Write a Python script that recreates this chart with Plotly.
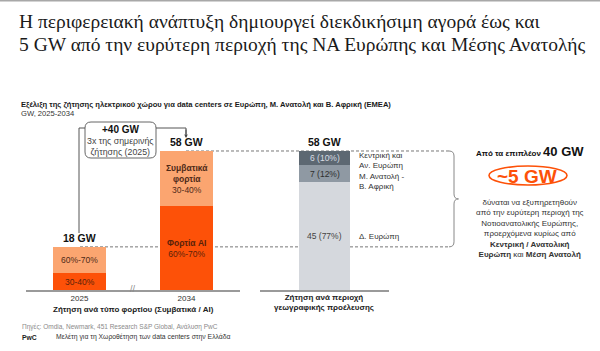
import plotly.graph_objects as go

# ---------------- data ----------------
years = ["2025", "2034"]
ai_gw = [7, 35]            # Φορτία AI (dark orange)
conv_gw = [11, 23]         # Συμβατικά φορτία (light orange)
ai_labels = ["30-40%", "<b>Φορτία AI</b><br>60%-70%"]
conv_labels = ["60%-70%", "<b>Συμβατικά<br>φορτία</b><br>30-40%"]
total_labels = ["18 GW", "58 GW"]

region_cat = ["Περιοχή"]
region_names = ["Δ. Ευρώπη", "Μ. Ανατολή -<br>Β. Αφρική", "Κεντρική και<br>Αν. Ευρώπη"]
region_gw = [45, 7, 6]
region_pct = ["77%", "12%", "10%"]
region_total_label = "58 GW"

# ---------------- styling ----------------
W, H = 600, 351
DARK_OR = "#FD5108"
LIGHT_OR = "#FBA570"
GRAYS = ["#D5D8DD", "#8F99A3", "#5D6872"]
REG_TXT = ["#444444", "#2e2e2e", "#d8dde2"]
AXIS_C = "#9a9a9a"
SANS = "Liberation Sans, Arial, sans-serif"
SERIF = "Liberation Serif, Georgia, serif"


def X(px):
    return px / W


def Y(py):
    return 1 - py / H


# y scale: 0 GW at pixel 290, 58 GW at pixel 151
y0_px, y58_px = 290, 151
ppg = (y0_px - y58_px) / 58.0
YMAX = 60
ytop_px = y0_px - YMAX * ppg

fig = go.Figure()
fig.add_trace(go.Bar(x=years, y=ai_gw, marker=dict(color=DARK_OR, line=dict(width=0)),
                     width=0.49, xaxis="x", yaxis="y", hoverinfo="skip"))
fig.add_trace(go.Bar(x=years, y=conv_gw, marker=dict(color=LIGHT_OR, line=dict(width=0)),
                     width=0.49, xaxis="x", yaxis="y", hoverinfo="skip"))
for v, c in zip(region_gw, GRAYS):
    fig.add_trace(go.Bar(x=region_cat, y=[v], marker=dict(color=c, line=dict(width=0)),
                         width=0.40, xaxis="x2", yaxis="y", hoverinfo="skip"))

ann = []
shapes = []

def A(text, x, y, size=8, color="#333", bold=False, xanchor="center", yanchor="middle",
      xref="paper", yref="paper", family=SANS, align="center", **kw):
    if bold:
        text = "<b>" + text + "</b>"
    d = dict(text=text, x=x, y=y, xref=xref, yref=yref, showarrow=False,
             font=dict(size=size, color=color, family=family),
             xanchor=xanchor, yanchor=yanchor, align=align)
    d.update(kw)
    ann.append(d)

# Title (two lines)
A("Η περιφερειακή ανάπτυξη δημιουργεί διεκδικήσιμη αγορά έως και",
  X(17), Y(22), size=19.5, color="#1a1a1a", family=SERIF, xanchor="left", align="left")
A("5 GW από την ευρύτερη περιοχή της ΝΑ Ευρώπης και Μέσης Ανατολής",
  X(17), Y(45), size=19.5, color="#1a1a1a", family=SERIF, xanchor="left", align="left")

# Subtitle
A("<b>Εξέλιξη της ζήτησης ηλεκτρικού χώρου για data centers σε Ευρώπη, Μ. Ανατολή και Β. Αφρική (EMEA)</b>",
  X(19), Y(104), size=7.6, color="#1a1a1a", xanchor="left")
A("GW, 2025-2034", X(19), Y(113.5), size=7.6, color="#333", xanchor="left")

# bar segment labels (left) – category index positions
for i, yr in enumerate(years):
    A(ai_labels[i], i, ai_gw[i] / 2, size=8.5, color="#5a2208", xref="x", yref="y")
    A(conv_labels[i], i, ai_gw[i] + conv_gw[i] / 2, size=8.5, color="#4e2a18", xref="x", yref="y")
    A(total_labels[i], i, ai_gw[i] + conv_gw[i], size=10.5, color="#111", bold=True,
      xref="x", yref="y", yanchor="bottom", yshift=1)

# region segment labels
cum = 0
shifts = [0, -8, -2]
for i, v in enumerate(region_gw):
    mid = cum + v / 2
    A(f"{v} ({region_pct[i]})", 0, mid, size=8.5, color=REG_TXT[i], xref="x2", yref="y")
    A(region_names[i], X(357), mid, size=8, color="#333", xanchor="left", yref="y",
      align="left", yshift=shifts[i])
    cum += v
A(region_total_label, 0, cum, size=10.5, color="#111", bold=True,
  xref="x2", yref="y", yanchor="bottom", yshift=1)

# axis titles
A("Ζήτηση ανά τύπο φορτίου (Συμβατικά / AI)", X(133), Y(309), size=8, color="#222", bold=True)
A("Ζήτηση ανά περιοχή<br>γεωγραφικής προέλευσης", X(324), Y(302.5), size=8, color="#222", bold=True)

# axis break mark
A("//", X(133), Y(289), size=9, color="#888")

# +40 GW box
A("<b>+40 GW</b>", X(120.5), Y(129), size=10, color="#111")
A("3x της σημερινής<br>ζήτησης (2025)", X(120.5), Y(146), size=8.8, color="#444")

# arrow down to 58 GW
ann.append(dict(x=X(186), y=Y(138), xref="paper", yref="paper", ax=0, ay=-10,
                showarrow=True, arrowhead=2, arrowsize=0.7, arrowwidth=1,
                arrowcolor="#444", text=""))

# right text block
A("<b>Από τα επιπλέον <span style='font-size:13px'>40 GW</span></b>", X(530), Y(152),
  size=8, color="#111")
A("<b>~5 GW</b>", X(527), Y(176), size=19, color=DARK_OR)
A("δύναται να εξυπηρετηθούν<br>από την ευρύτερη περιοχή της<br>Νοτιοανατολικής Ευρώπης,<br>"
  "προερχόμενα κυρίως από<br><b>Κεντρική / Ανατολική</b><br><b>Ευρώπη</b> και <b>Μέση Ανατολή</b>",
  X(530), Y(228), size=8, color="#333")

# footer
A("Πηγές: Omdia, Newmark, 451 Research S&P Global, Ανάλυση PwC", X(20), Y(326.5),
  size=6.5, color="#8a8a8a", xanchor="left")
A("<b>PwC</b>", X(20), Y(337), size=6.8, color="#222", xanchor="left")
A("Μελέτη για τη Χωροθέτηση των data centers στην Ελλάδα", X(54), Y(337),
  size=6.8, color="#333", xanchor="left")

# ---------------- shapes ----------------
# top gray rule
shapes.append(dict(type="line", xref="paper", yref="paper", x0=0, x1=1, y0=Y(0.5), y1=Y(0.5),
                   line=dict(color="#a8a8a8", width=2)))

tot25 = ai_gw[0] + conv_gw[0]
tot34 = ai_gw[1] + conv_gw[1]
dash = dict(color="#777", width=1, dash="3px,2px")
# dashed level lines (behind bars)
shapes.append(dict(type="line", xref="paper", yref="y", x0=X(186), x1=X(449), y0=tot34, y1=tot34,
                   line=dash, layer="below"))
shapes.append(dict(type="line", xref="paper", yref="y", x0=X(80), x1=X(449), y0=tot25, y1=tot25,
                   line=dash, layer="below"))

# brace (x in paper, y in data)
r = 5 / ppg
bx0, bx1, bx2 = X(449), X(454), X(458.5)
ymid = (tot25 + tot34) / 2
brace = (f"M {bx0} {tot34} Q {bx1} {tot34} {bx1} {tot34 - r} L {bx1} {ymid + r} "
         f"Q {bx1} {ymid} {bx2} {ymid} Q {bx1} {ymid} {bx1} {ymid - r} L {bx1} {tot25 + r} "
         f"Q {bx1} {tot25} {bx0} {tot25}")
shapes.append(dict(type="path", xref="paper", yref="y", path=brace,
                   line=dict(color="#888", width=1)))

# +40 GW rounded box
def rrect(x0, y0, x1, y1, rad):
    return (f"M {X(x0 + rad)} {Y(y0)} L {X(x1 - rad)} {Y(y0)} Q {X(x1)} {Y(y0)} {X(x1)} {Y(y0 + rad)} "
            f"L {X(x1)} {Y(y1 - rad)} Q {X(x1)} {Y(y1)} {X(x1 - rad)} {Y(y1)} "
            f"L {X(x0 + rad)} {Y(y1)} Q {X(x0)} {Y(y1)} {X(x0)} {Y(y1 - rad)} "
            f"L {X(x0)} {Y(y0 + rad)} Q {X(x0)} {Y(y0)} {X(x0 + rad)} {Y(y0)} Z")

shapes.append(dict(type="path", xref="paper", yref="paper", path=rrect(85, 122, 156, 158, 6),
                   line=dict(color="#666", width=1), fillcolor="white"))
# connector lines
shapes.append(dict(type="path", xref="paper", yref="paper",
                   path=f"M {X(79)} {Y(233)} L {X(79)} {Y(128)} L {X(85)} {Y(128)}",
                   line=dict(color="#555", width=1)))
shapes.append(dict(type="path", xref="paper", yref="paper",
                   path=f"M {X(156)} {Y(128)} L {X(186)} {Y(128)} L {X(186)} {Y(134)}",
                   line=dict(color="#555", width=1)))
# ellipse around ~5 GW
shapes.append(dict(type="circle", xref="paper", yref="paper", x0=X(489), x1=X(567),
                   y0=Y(185), y1=Y(166), line=dict(color=DARK_OR, width=1.6)))

fig.update_layout(
    width=W, height=H, margin=dict(l=0, r=0, t=0, b=0),
    paper_bgcolor="white", plot_bgcolor="rgba(0,0,0,0)",
    barmode="stack", showlegend=False,
    xaxis=dict(domain=[X(26), X(240)], type="category", categoryorder="array",
               categoryarray=years, range=[-0.5, 1.5], showline=True, linecolor=AXIS_C,
               linewidth=1.5, ticks="", showgrid=False, zeroline=False, fixedrange=True,
               tickfont=dict(size=8, color="#333", family=SANS)),
    xaxis2=dict(domain=[X(260), X(389)], anchor="y", type="category", range=[-0.5, 0.5],
                showline=True, linecolor=AXIS_C, linewidth=1.5, ticks="",
                showticklabels=False, showgrid=False, zeroline=False),
    yaxis=dict(domain=[Y(y0_px), Y(ytop_px)], range=[0, YMAX], visible=False,
               showgrid=False, zeroline=False),
    annotations=ann, shapes=shapes,
)

fig.write_html("out.html")
